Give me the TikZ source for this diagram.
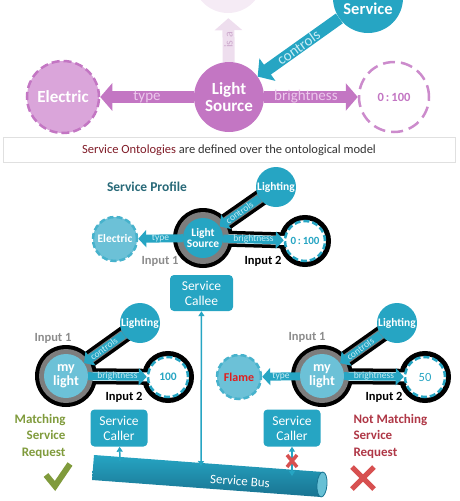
\documentclass[tikz,border=0pt]{standalone}
\usepackage{fontspec}
\setmainfont{Carlito}
\usetikzlibrary{positioning}
\usetikzlibrary{arrows.meta}

\definecolor{tealC}{RGB}{38,165,195}
\definecolor{tealL}{RGB}{108,193,215}
\definecolor{tealD}{RGB}{25,115,145}
\definecolor{tealT}{RGB}{200,236,245}
\definecolor{purpC}{RGB}{195,118,195}
\definecolor{purpL}{RGB}{218,165,218}
\definecolor{purpT}{RGB}{236,200,236}
\definecolor{fadeC}{RGB}{238,222,238}
\definecolor{fadeT}{RGB}{205,170,205}
\definecolor{ontoRed}{RGB}{128,28,40}
\definecolor{matchG}{RGB}{128,155,60}
\definecolor{nomatchR}{RGB}{175,55,70}
\definecolor{crossR}{RGB}{215,80,80}
\definecolor{flameR}{RGB}{225,30,30}
\definecolor{profT}{RGB}{40,105,120}
\definecolor{haloG}{RGB}{125,125,125}

\begin{document}
\begin{tikzpicture}[x=1pt,y=-1pt,
  big/.style={circle, inner sep=0pt, minimum size=70pt, text=white, align=center, font=\bfseries\fontsize{17}{17}\selectfont},
  small/.style={circle, inner sep=0pt, minimum size=40pt, text=white, align=center, font=\bfseries\fontsize{11.5}{11.5}\selectfont},
  dashring/.style={line width=2.5pt, dash pattern=on 6pt off 3pt},
  fatarrow/.style={line width=12pt, -{Triangle[length=12pt,width=27pt]}},
  thinarrow/.style={line width=8pt, -{Triangle[length=8pt,width=17pt]}},
  arrowlbl/.style={font=\fontsize{9.5}{10}\selectfont, text=tealT, inner sep=1pt},
  toplbl/.style={font=\fontsize{15}{16}\selectfont},
  callbox/.style={rectangle, rounded corners=4pt, fill=tealC, text=white, minimum width=57pt, minimum height=37pt, align=center, font=\fontsize{13.5}{15}\selectfont},
  inputlbl/.style={font=\bfseries\fontsize{12.5}{13}\selectfont},
  busline/.style={tealC, line width=1.5pt}
]
\useasboundingbox (0,0) rectangle (460,501);
\clip (0,0) rectangle (460,501);

% ontological model
\node[big, fill=fadeC!60] (thing) at (228,-22) {};
\node[big, fill=tealC] (service) at (368,-2) {};
\node[text=white, font=\bfseries\fontsize{16.5}{17}\selectfont] (servicetxt) at (368,9) {Service};
\node[big, fill=purpC] (ls) at (229,97) {Light\\Source};
\node[big, fill=purpL, draw=purpC, line width=2.5pt, dash pattern=on 8pt off 4pt, minimum size=72pt] (elec) at (63,97) {Electric};
\node[big, fill=white, draw=purpC!85, line width=2.5pt, dash pattern=on 12pt off 6pt, text=purpC, font=\bfseries\fontsize{12.5}{13}\selectfont] (range) at (394,97) {0\,:\,100};

\draw[fatarrow, draw=fadeC, shorten >=5pt] (ls) -- (thing) node[pos=0.45, rotate=90, text=fadeT, font=\fontsize{12}{12}\selectfont] (isa) {is a};
\draw[fatarrow, draw=purpC] (ls) -- (elec) node[midway, toplbl, text=purpT] (typelbl) {type};
\draw[fatarrow, draw=purpC] (ls) -- (range) node[midway, toplbl, text=purpT, xshift=-5pt] (brlbl) {brightness};
\draw[fatarrow, draw=tealC] (service) -- (ls) node[midway, sloped, toplbl, text=tealT] (ctrllbl) {controls};

\node[draw=black!12, line width=0.8pt, minimum width=452pt, minimum height=25pt, text=black!80, font=\fontsize{12.5}{13}\selectfont] (note) at (229,150) {\textcolor{ontoRed}{Service Ontologies} are defined over the ontological model};

% service profile
\coordinate (pls) at (203,238);
\coordinate (plit) at (276,187);
\coordinate (pval) at (305,241);
\draw[line width=17pt] (pls) -- (plit);
\draw[line width=16pt] (pls) -- (pval);
\fill (pls) circle [radius=30pt];
\draw[line width=5pt] (pval) circle [radius=23.5pt];
\draw[line width=9pt, white, shorten >=20pt] (pls) -- (pval);
\draw[line width=10pt, haloG] (pls) -- (plit);
\fill[haloG] (pls) circle [radius=26pt];

\node[small, fill=tealC] (profls) at (pls) {Light\\Source};
\node[small, fill=tealC] (proflit) at (plit) {Lighting};
\node[small, fill=white, draw=tealC, dashring, text=tealC, font=\bfseries\fontsize{11}{11}\selectfont] (profval) at (pval) {0\,:\,100};
\node[small, fill=tealL, draw=tealC!85, dashring, minimum size=44pt] (profelec) at (115,239) {Electric};

\draw[thinarrow, draw=tealC] (proflit) -- (profls) node[midway, sloped, arrowlbl] (pctrl) {controls};
\draw[thinarrow, draw=tealC] (profls) -- (profelec) node[midway, arrowlbl] (ptype) {type};
\draw[thinarrow, draw=tealC] (profls) -- (profval) node[midway, arrowlbl] (pbr) {brightness};

\node[font=\bfseries\fontsize{13.5}{14}\selectfont, text=profT] (proftitle) at (147,187) {Service Profile};
\node[inputlbl, text=black!45] (pin1) at (160,261) {Input 1};
\node[inputlbl] (pin2) at (263,261) {Input 2};

\node[callbox, minimum width=63pt, minimum height=36pt] (callee) at (201.5,293) {Service\\Callee};

% matching request
\coordinate (lml) at (66,376);
\coordinate (llit) at (140,323);
\coordinate (lval) at (168,377);
\draw[line width=17pt] (lml) -- (llit);
\draw[line width=16pt] (lml) -- (lval);
\fill (lml) circle [radius=31pt];
\draw[line width=5pt] (lval) circle [radius=23.5pt];
\draw[line width=9pt, white, shorten >=20pt] (lml) -- (lval);
\draw[line width=10pt, haloG] (lml) -- (llit);
\fill[haloG] (lml) circle [radius=27pt];

\node[small, fill=tealL, minimum size=44pt, font=\bfseries\fontsize{14}{14}\selectfont] (lmy) at (lml) {my\\light};
\node[small, fill=tealC] (llight) at (llit) {Lighting};
\node[small, fill=white, draw=tealC, dashring, text=tealC] (lvalue) at (lval) {100};

\draw[thinarrow, draw=tealC] (llight) -- (lmy) node[midway, sloped, arrowlbl] (lctrl) {controls};
\draw[thinarrow, draw=tealC] (lmy) -- (lvalue) node[midway, arrowlbl] (lbr) {brightness};

\node[inputlbl, text=black!45] (lin1) at (53,338) {Input 1};
\node[inputlbl] (lin2) at (124,397) {Input 2};

% not matching request
\coordinate (rml) at (322,376);
\coordinate (rlit) at (397,323);
\coordinate (rval) at (425,377);
\draw[line width=17pt] (rml) -- (rlit);
\draw[line width=16pt] (rml) -- (rval);
\fill (rml) circle [radius=31pt];
\draw[line width=5pt] (rval) circle [radius=23.5pt];
\draw[line width=9pt, white, shorten >=20pt] (rml) -- (rval);
\draw[line width=10pt, haloG] (rml) -- (rlit);
\fill[haloG] (rml) circle [radius=27pt];

\node[small, fill=tealL, minimum size=44pt, font=\bfseries\fontsize{14}{14}\selectfont] (rmy) at (rml) {my\\light};
\node[small, fill=tealC] (rlight) at (rlit) {Lighting};
\node[small, fill=white, draw=tealC, dashring, text=tealC, font=\fontsize{12.5}{13}\selectfont] (rvalue) at (rval) {50};
\node[small, fill=tealL, draw=tealC!85, dashring, minimum size=44pt, text=flameR, font=\bfseries\fontsize{12}{12}\selectfont] (flame) at (239,377) {Flame};

\draw[thinarrow, draw=tealC] (rlight) -- (rmy) node[midway, sloped, arrowlbl] (rctrl) {controls};
\draw[thinarrow, draw=tealC] (rmy) -- (flame) node[midway, arrowlbl] (rtype) {type};
\draw[thinarrow, draw=tealC] (rmy) -- (rvalue) node[midway, arrowlbl] (rbr) {brightness};

\node[inputlbl, text=black!45] (rin1) at (307,337) {Input 1};
\node[inputlbl] (rin2) at (384,397) {Input 2};

% service bus
\shade[top color=tealC, bottom color=tealD] (94,455) -- (323,472) -- (321,497) -- (92,480) -- cycle;
\draw[fill=tealC!70!white, draw=tealD, line width=0.8pt, rotate around={-4.25:(322,484.5)}] (322,484.5) ellipse [x radius=5pt, y radius=12.5pt];
\node[text=white, rotate=-4, font=\fontsize{13}{13}\selectfont] (bus) at (240,481) {Service Bus};

\node[callbox] (callerL) at (119,428) {Service\\Caller};
\node[callbox] (callerR) at (292,428) {Service\\Caller};

\coordinate (busL) at (120,461);
\coordinate (busC) at (201,466);
\coordinate (busR) at (292,476);
\draw[busline, -{Triangle[length=5pt,width=6pt]}] (busL) -- (callerL);
\draw[busline, {Triangle[length=5pt,width=6pt]}-{Triangle[length=5pt,width=6pt]}] (busC) -- (callee);
\draw[busline, {Triangle[length=5pt,width=6pt]}-{Triangle[length=5pt,width=6pt]}] (busR) -- (callerR);
\draw[crossR, line width=3.5pt] (287,455) -- (297,467) (287,467) -- (297,455);

\node[anchor=east, align=right, text=matchG, font=\bfseries\fontsize{13}{16.5}\selectfont] (matchtxt) at (69,436) {Matching\\Service\\Request};
\node[anchor=west, align=left, text=nomatchR, font=\bfseries\fontsize{13}{16.5}\selectfont] (nomatchtxt) at (350,436) {Not Matching\\Service\\Request};

\draw[matchG, line width=6pt] (46,475) -- (55,486) -- (70,464);
\draw[crossR, line width=5pt] (352,467) -- (374,489) (352,489) -- (374,467);

\end{tikzpicture}
\end{document}
